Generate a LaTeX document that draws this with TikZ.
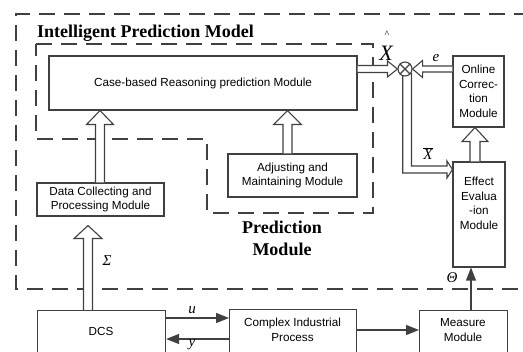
\documentclass[tikz,border=0pt]{standalone}
\usepackage{fontspec}
\setmainfont{Liberation Serif}
\newfontfamily\sansf{Liberation Sans}
\usetikzlibrary{calc,arrows.meta}
\definecolor{linec}{HTML}{404040}
\newcommand{\blockarr}[5]{%
  \coordinate (ba-h) at ($(#2)!#5!(#1)$);
  \filldraw[hollow] ($(#1)!#3!90:(#2)$) -- ($(ba-h)!#3!90:(#2)$) -- ($(ba-h)!#4!90:(#2)$) -- (#2) -- ($(ba-h)!#4!-90:(#2)$) -- ($(ba-h)!#3!-90:(#2)$) -- ($(#1)!#3!-90:(#2)$);}
\begin{document}
\begin{tikzpicture}[x=1pt,y=-1pt,
  lc/.style={draw=linec, line width=1.1pt},
  box/.style={lc, fill=white, rectangle, inner sep=0pt},
  txt/.style={font=\sansf\fontsize{11.7}{14.5}\selectfont, align=center, inner sep=0pt, text=black},
  btitle/.style={font=\fontsize{18}{22}\selectfont\bfseries, inner sep=0pt, align=center},
  mlab/.style={font=\fontsize{15}{15}\selectfont\itshape, inner sep=0pt},
  dashbox/.style={draw=linec, line width=1.1pt, dash pattern=on 16pt off 9pt},
  hollow/.style={draw=linec, line width=1.1pt, fill=white, line join=miter},
  farrow/.style={draw=linec, line width=1.1pt, -{Triangle[length=13pt,width=10pt]}},
]
\useasboundingbox (0,0) rectangle (523,352);
\clip (0,0) rectangle (523,352);

% dashed frames
\draw[dashbox] (530,14) -- (16,14) -- (16,289) -- (530,289);
\draw[dashbox] (36,44) -- (373,44) -- (373,213) -- (207,213) -- (207,139) -- (36,139) -- cycle;

% boxes
\node[box, txt, minimum width=308pt, minimum height=54pt] (cbr) at (203,83) {Case-based Reasoning prediction Module};
\node[box, txt, minimum width=129pt, minimum height=43pt] (adj) at (292.5,175.5) {Adjusting and\\Maintaining Module};
\node[box, txt, minimum width=127pt, minimum height=33pt] (dcp) at (100.5,199.5) {Data Collecting and\\Processing Module};
\node[box, txt, minimum width=51pt, minimum height=71pt] (onl) at (478.5,91.5) {Online\\Correc-\\tion\\Module};
\node[box, minimum width=52pt, minimum height=105pt] (eff) at (479,214.5) {};
\node[txt] (efft) at (479,203.5) {Effect\\Evalua\\-ion\\Module};
\node[box, minimum width=128pt, minimum height=60pt, anchor=north west] (dcs) at (37,310) {};
\node[txt] (dcst) at (101,331) {DCS};
\node[box, minimum width=127pt, minimum height=60pt, anchor=north west] (cip) at (229,309) {};
\node[txt] (cipt) at (292.5,330) {Complex Industrial\\Process};
\node[box, minimum width=88pt, minimum height=60pt, anchor=north west] (mea) at (419,310) {};
\node[txt] (meat) at (463,330) {Measure\\Module};

% summing junction
\node[circle, lc, minimum size=14pt, inner sep=0pt] (ox) at (405,69) {};
\draw[lc] (ox.45) -- (ox.225) (ox.135) -- (ox.315);

% hollow arrows
\coordinate (a1s) at (dcs.north -| 88,0);
\coordinate (a1t) at ($(dcp.south -| 88,0)+(0,9)$);
\blockarr{a1s}{a1t}{4.5pt}{14pt}{13pt}
\coordinate (a2s) at (dcp.north -| 100,0);
\coordinate (a2t) at (cbr.south -| 100,0);
\blockarr{a2s}{a2t}{4.5pt}{13.5pt}{14pt}
\coordinate (a3s) at (adj.north -| 287.5,0);
\coordinate (a3t) at (cbr.south -| 287.5,0);
\blockarr{a3s}{a3t}{4.5pt}{14pt}{14pt}
\coordinate (a4s) at (cbr.east |- ox.west);
\blockarr{a4s}{ox.west}{3.5pt}{8pt}{10pt}
\coordinate (a5s) at (onl.west |- ox.east);
\blockarr{a5s}{ox.east}{3pt}{8.5pt}{10pt}
\coordinate (a7s) at (eff.north -| 475,0);
\coordinate (a7t) at (onl.south -| 475,0);
\blockarr{a7s}{a7t}{5pt}{13pt}{14pt}
\coordinate (a6t) at (eff.west |- 0,169.5);
\draw[hollow, fill=none] (ox.253) -- (ox.253 |- 0,173) -- (447,173) -- (447,178) -- (a6t) -- (447,161) -- (447,166) -- (ox.329 |- 0,166) -- (ox.329);

% signal arrows
\draw[farrow] (dcs.east |- 0,318) -- (cip.west |- 0,318);
\draw[farrow] (cip.west |- 0,339) -- (dcs.east |- 0,339);
\draw[farrow] (cip.east |- 0,330) -- (mea.west |- 0,330);
\draw[farrow] (mea.north -| 471,0) -- (eff.south -| 471,0);

% labels
\node[btitle, anchor=base west] (tipm) at (37,38) {Intelligent Prediction Model};
\node[btitle] (tpm) at (282,238) {Prediction\\Module};
\node[mlab] (lsig) at (107,261) {Σ};
\node[mlab] (lu) at (192,310) {u};
\node[mlab] (ly) at (192,345) {y};
\node[mlab] (lth) at (452,278) {Θ};
\node[mlab] (le) at (436,58) {e};
\node[font=\fontsize{22}{22}\selectfont\itshape, inner sep=0pt] (lxh) at (386,53) {X};
\node[font=\fontsize{10}{10}\selectfont, inner sep=0pt] (lhat) at (387,34) {\textasciicircum};
\node[mlab] (lxb) at (428,154) {$\overline{\mbox{\itshape X}}$};
\end{tikzpicture}
\end{document}
